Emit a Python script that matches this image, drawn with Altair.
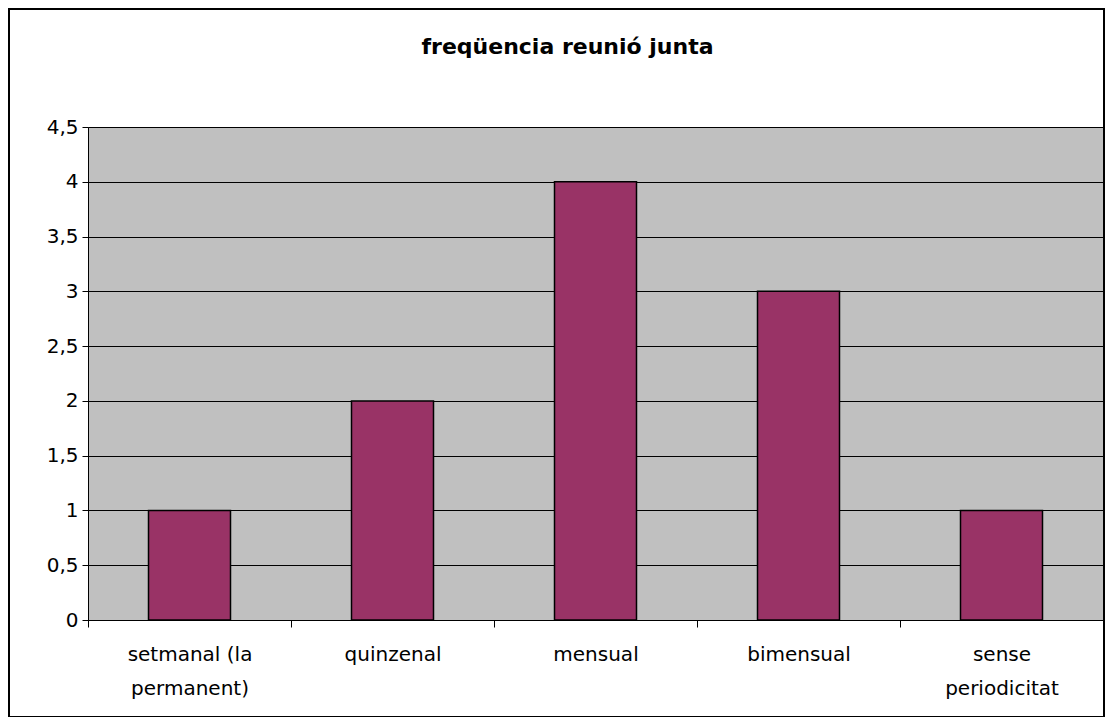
import altair as alt
import pandas as pd

categories = ["setmanal (la\npermanent)", "quinzenal", "mensual", "bimensual", "sense\nperiodicitat"]
values = [1, 2, 4, 3, 1]
title_text = "freqüencia reunió junta"

df = pd.DataFrame({"cat": categories, "val": values})

W, H = 1015, 493
FONT = "DejaVu Sans"

x = alt.X("cat:N", sort=categories, title=None,
          scale=alt.Scale(paddingInner=0, paddingOuter=0),
          axis=alt.Axis(labelAngle=0, tickBand="extent", labelExpr="split(datum.label, '\\n')",
                        labelFontSize=20, labelFont=FONT, labelColor="black",
                        labelPadding=17, labelLineHeight=34, labelBaseline="top",
                        tickSize=7, tickColor="black", domainColor="black", tickWidth=1))
y = alt.Y("val:Q", title=None,
          scale=alt.Scale(domain=[0, 4.5], nice=False),
          axis=alt.Axis(values=[0, 0.5, 1, 1.5, 2, 2.5, 3, 3.5, 4, 4.5],
                        labelExpr="replace(format(datum.value, '~g'), '.', ',')",
                        labelFontSize=20, labelFont=FONT, labelColor="black",
                        labelPadding=4, tickSize=6, tickColor="black", domainColor="black",
                        grid=True, gridColor="black", gridWidth=1))

bars = alt.Chart(df).mark_bar(size=82, color="#993366", stroke="black", strokeWidth=1.5).encode(x=x, y=y)

border = alt.Chart(df).mark_rect(fill=None, stroke="black", strokeWidth=1.5, clip=False).encode(
    x=alt.value(-79), x2=alt.value(W + 1), y=alt.value(-118), y2=alt.value(H + 97)
)

chart = alt.layer(bars, border).properties(
    width=W, height=H,
    autosize=alt.AutoSizeParams(type="none"),
    padding={"left": 80, "top": 119, "right": 2, "bottom": 97},
    title=alt.TitleParams(title_text, fontSize=22, font=FONT, fontWeight="bold",
                          anchor="middle", frame="group", baseline="alphabetic",
                          offset=-68, dx=-28, color="black"),
).configure(background="white").configure_view(fill="#C0C0C0", stroke="#808080", strokeWidth=1)

chart.save("out.html", embed_options={"renderer": "svg", "actions": False})
